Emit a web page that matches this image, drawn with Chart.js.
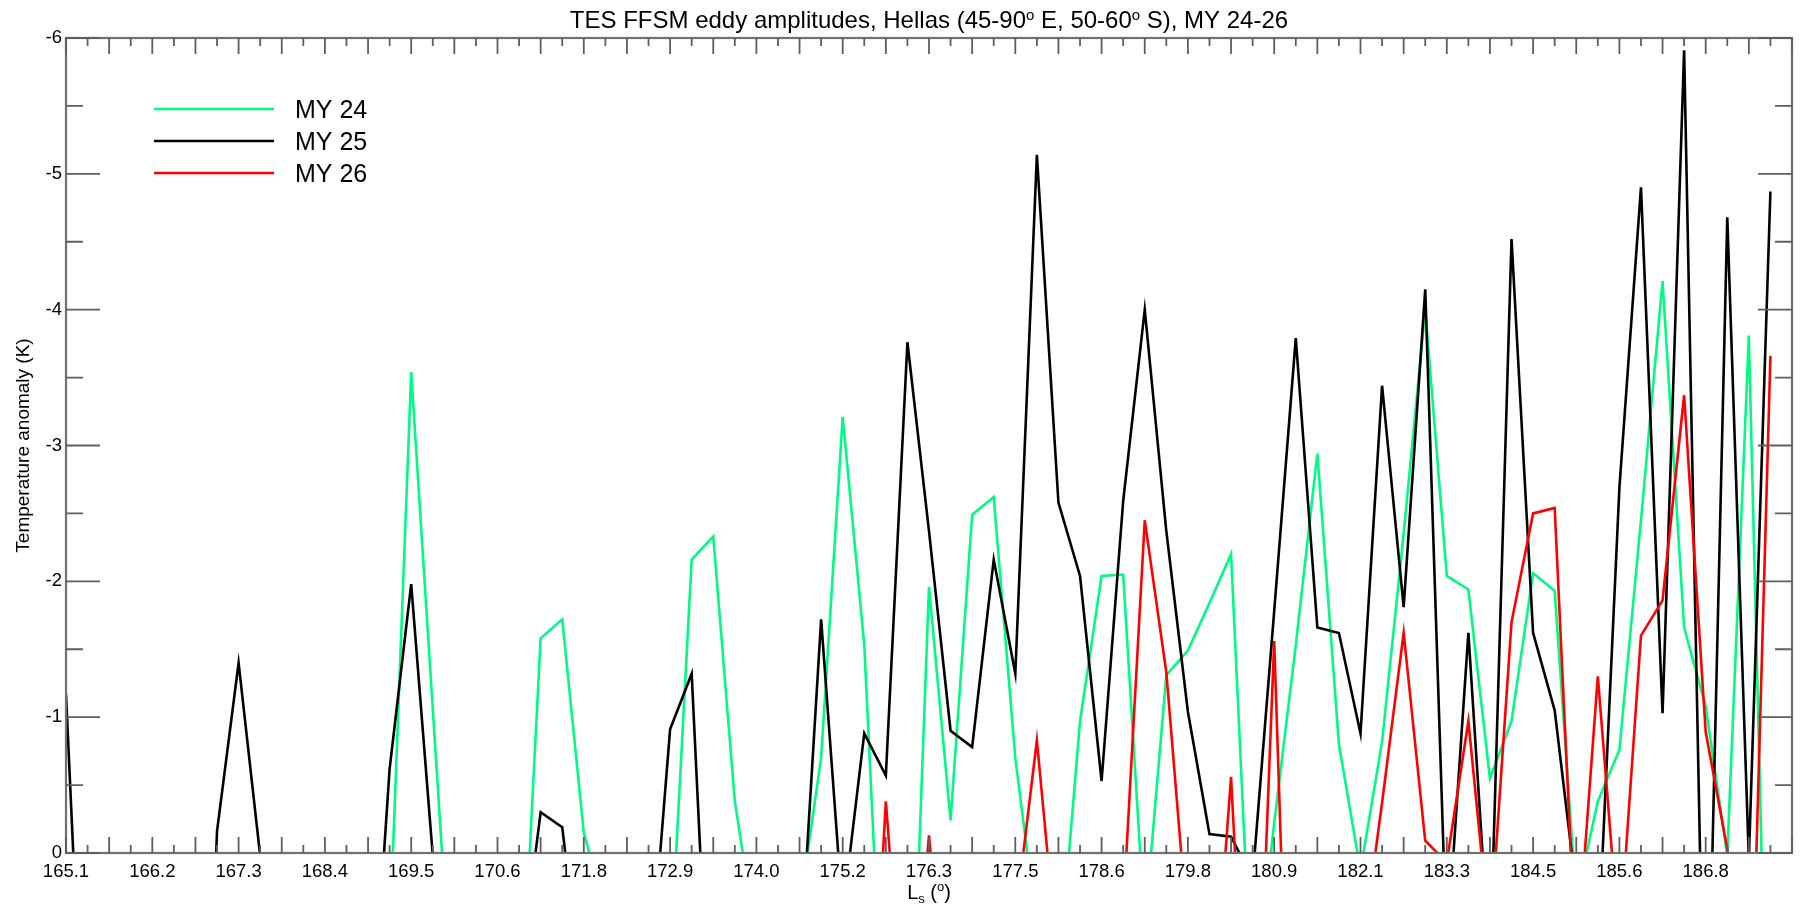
<!DOCTYPE html>
<html>
<head>
<meta charset="utf-8">
<title>TES FFSM eddy amplitudes</title>
<script src="https://cdn.jsdelivr.net/npm/chart.js@4.4.1/dist/chart.umd.min.js"></script>
<style>
  html, body { margin: 0; padding: 0; background: #fff; }
  #wrap { width: 1800px; height: 908px; }
</style>
</head>
<body>
<div id="wrap"><canvas id="eddyChart"></canvas></div>
<script>
// Ls labels, one every 4 samples (sample index 0, 4, 8 ...)
const lsLabels = ["165.1", "166.2", "167.3", "168.4", "169.5", "170.6", "171.8", "172.9", "174.0", "175.2",
                  "176.3", "177.5", "178.6", "179.8", "180.9", "182.1", "183.3", "184.5", "185.6", "186.8"];

// temperature anomaly (K), one value per sample; positive values fall below the 0 line and get clipped
// null = not readable from the figure
const my24 = [null, null, null, null, null, null, null, null, null, null,
              null, null, null, null, null, 0.63, -3.54, -1.06, 1.41, null,
              null, 1.52, -1.58, -1.72, -0.15, 0.43, null, null, 0.84, -2.16,
              -2.33, -0.38, 0.65, null, 0.41, -0.70, -3.21, -1.53, 1.80, 2.30,
              -1.96, -0.24, -2.49, -2.62, -0.70, 0.55, 0.93, -0.97, -2.04, -2.05,
              0.55, -1.31, -1.49, -1.84, -2.20, 1.2, -0.22, -1.53, -2.94, -0.80,
              0.13, -0.82, -2.35, -4.00, -2.04, -1.94, -0.55, -0.97, -2.06, -1.93,
              0.35, -0.38, -0.76, -2.45, -4.21, -1.66, -1.08, 0.02, -3.81, 2.65];

const my25 = [-1.17, 2.3, null, null, null, null, 4.0, -0.16, -1.40, 0.02,
              null, null, null, null, 1.76, -0.62, -1.98, 0.02, null, null,
              null, 0.95, -0.30, -0.19, 1.14, null, null, 1.07, -0.91, -1.32,
              1.98, null, null, null, 0.89, -1.72, 0.45, -0.88, -0.57, -3.76,
              -2.37, -0.90, -0.78, -2.16, -1.32, -5.14, -2.58, -2.04, -0.53, -2.59,
              -4.00, -2.37, -1.04, -0.14, -0.12, 0.19, -1.78, -3.79, -1.66, -1.62,
              -0.88, -3.44, -1.81, -4.15, 0.73, -1.62, 0.85, -4.52, -1.62, -1.05,
              0.28, 0.76, -2.69, -4.90, -1.03, -5.91, 2.1, -4.68, 0.05, -4.87];

const my26 = [null, null, null, null, null, null, null, null, null, null,
              null, null, null, null, null, null, null, null, null, null,
              null, null, null, null, null, null, null, null, null, null,
              null, null, null, null, null, null, null, 2.5, -0.38, 1.7,
              -0.13, 1.7, null, null, 0.49, -0.83, 0.86, null, null, 0.43,
              -2.45, -1.33, 0.60, 1.59, -0.56, 2.5, -1.56, 3.3, null, null,
              0.82, -0.37, -1.62, -0.09, 0.07, -0.97, 0.63, -1.70, -2.50, -2.54,
              0.85, -1.30, 0.68, -1.60, -1.86, -3.37, -0.89, -0.03, 1.97, -3.66];

const seriesNames = ["MY 24", "MY 25", "MY 26"];
const seriesColors = ["rgb(0,250,132)", "#000000", "#ff0000"];

const FONT = "'Liberation Sans', Arial, Helvetica, sans-serif";

function toPoints(arr) {
  return arr.map((v, i) => ({ x: i, y: v }));
}

// draw text pieces (normal / sub / superscript) centred on cx
function drawRuns(ctx, runs, cx, baseline) {
  let total = 0;
  runs.forEach(r => {
    ctx.font = r.size + "px " + FONT;
    r.w = ctx.measureText(r.t).width;
    total += r.w;
  });
  let x = cx - total / 2;
  ctx.textAlign = "left";
  ctx.textBaseline = "alphabetic";
  runs.forEach(r => {
    ctx.font = r.size + "px " + FONT;
    ctx.fillText(r.t, x, baseline + (r.dy || 0));
    x += r.w;
  });
}

// IDL style box: inward ticks on all four sides, legend inside, titles
const boxPlugin = {
  id: "box",
  afterDatasetsDraw(chart) {
    const { ctx, chartArea: a, scales: { x, y } } = chart;
    ctx.save();

    ctx.strokeStyle = "#707070";
    ctx.lineWidth = 2.2;
    ctx.strokeRect(a.left, a.top, a.right - a.left, a.bottom - a.top);

    ctx.strokeStyle = "#5e5e5e";
    ctx.lineWidth = 1.8;
    ctx.beginPath();
    for (let i = x.min; i <= x.max; i++) {
      const px = x.getPixelForValue(i);
      const len = i % 2 === 0 ? 16 : 8;
      ctx.moveTo(px, a.bottom); ctx.lineTo(px, a.bottom - len);
      ctx.moveTo(px, a.top); ctx.lineTo(px, a.top + len);
    }
    for (let k = 0; k <= (y.max - y.min) * 2; k++) {
      const py = y.getPixelForValue(y.min + k * 0.5);
      const len = k % 2 === 0 ? 34 : 17;
      ctx.moveTo(a.left, py); ctx.lineTo(a.left + len, py);
      ctx.moveTo(a.right, py); ctx.lineTo(a.right - len, py);
    }
    ctx.stroke();

    // legend
    const rows = [109, 141, 173];
    chart.data.datasets.forEach((ds, i) => {
      ctx.strokeStyle = ds.borderColor;
      ctx.lineWidth = 2.6;
      ctx.beginPath();
      ctx.moveTo(154, rows[i]);
      ctx.lineTo(274, rows[i]);
      ctx.stroke();
      ctx.fillStyle = "#000";
      ctx.font = "25px " + FONT;
      ctx.textAlign = "left";
      ctx.textBaseline = "alphabetic";
      ctx.fillText(ds.label, 295, rows[i] + 9);
    });

    const cx = (a.left + a.right) / 2;
    ctx.fillStyle = "#000";

    // main title
    drawRuns(ctx, [
      { t: "TES FFSM eddy amplitudes, Hellas (45-90", size: 24 },
      { t: "o", size: 15, dy: -8 },
      { t: " E, 50-60", size: 24 },
      { t: "o", size: 15, dy: -8 },
      { t: " S), MY 24-26", size: 24 }
    ], cx, 28);

    // x axis title
    drawRuns(ctx, [
      { t: "L", size: 20 },
      { t: "s", size: 13, dy: 4 },
      { t: " (", size: 20 },
      { t: "o", size: 13, dy: -8 },
      { t: ")", size: 20 }
    ], cx, 899);

    // y axis title
    ctx.translate(28.5, (a.top + a.bottom) / 2);
    ctx.rotate(-Math.PI / 2);
    ctx.font = "19px " + FONT;
    ctx.textAlign = "center";
    ctx.textBaseline = "alphabetic";
    ctx.fillText("Temperature anomaly (K)", 0, 0);

    ctx.restore();
  }
};

new Chart(document.getElementById("eddyChart"), {
  type: "line",
  data: {
    datasets: [my24, my25, my26].map((arr, i) => ({
      label: seriesNames[i],
      data: toPoints(arr),
      borderColor: seriesColors[i],
      backgroundColor: seriesColors[i],
      borderWidth: 2.6,
      pointRadius: 0,
      tension: 0,
      fill: false,
      spanGaps: false,
      order: 2 - i
    }))
  },
  options: {
    responsive: true,
    maintainAspectRatio: false,
    animation: false,
    layout: { padding: { top: 38, right: 6, left: 0, bottom: 0 } },
    plugins: {
      legend: { display: false },
      title: { display: false },
      tooltip: { enabled: false }
    },
    scales: {
      x: {
        type: "linear",
        min: 0,
        max: 80,
        grid: { display: false, drawTicks: false },
        border: { display: false },
        ticks: {
          stepSize: 4,
          autoSkip: false,
          maxRotation: 0,
          padding: 8,
          color: "#000",
          font: { family: FONT, size: 18.5 },
          callback: (v) => lsLabels[Math.round(v / 4)] || ""
        },
        afterFit: (scale) => { scale.height = 55; }
      },
      y: {
        type: "linear",
        reverse: true,
        min: -6,
        max: 0,
        grid: { display: false, drawTicks: false },
        border: { display: false },
        ticks: {
          stepSize: 1,
          padding: 4,
          color: "#000",
          font: { family: FONT, size: 18.5 }
        },
        afterFit: (scale) => { scale.width = 66; }
      }
    }
  },
  plugins: [boxPlugin]
});
</script>
</body>
</html>
